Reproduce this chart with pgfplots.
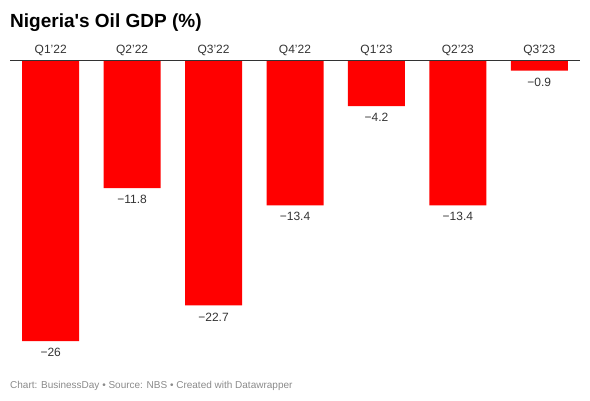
\documentclass[border=0pt]{standalone}
\usepackage{pgfplots}
\pgfplotsset{compat=1.18}
\usepackage{fontspec}
\setmainfont{Liberation Sans}
\newfontfamily\plainfont{Liberation Sans}[Mapping=]
\definecolor{barred}{HTML}{FF0000}
\definecolor{foot}{HTML}{8A8A8A}
\definecolor{txt}{HTML}{333333}
\begin{document}
\begin{tikzpicture}[x=1pt,y=1pt]
\path[use as bounding box] (0,0) rectangle (590,400);
\begin{axis}[at={(10pt,59pt)}, anchor=south west, scale only axis,
  width=570pt, height=280pt, xmin=-0.5, xmax=6.5, ymin=-26, ymax=0,
  clip=false, axis line style={draw=none},
  ybar, bar width=57pt, bar shift=0pt,
  ytick=\empty, xtick={0,1,2,3,4,5,6},
  xticklabels={Q1’22,Q2’22,Q3’22,Q4’22,Q1’23,Q2’23,Q3’23},
  xticklabel pos=upper, major tick length=0pt,
  x tick label style={font=\fontsize{12}{14}\selectfont, text=txt, inner sep=0pt, text depth=0pt, anchor=south, yshift=7pt},
  nodes near coords, point meta=explicit symbolic,
  every node near coord/.append style={font=\fontsize{12}{14}\selectfont, text=txt, inner sep=0pt, anchor=north, yshift=-7pt}]
\addplot[fill=barred, draw=none] coordinates {
 (0,-26) [−26]
 (1,-11.8) [−11.8]
 (2,-22.7) [−22.7]
 (3,-13.4) [−13.4]
 (4,-4.2) [−4.2]
 (5,-13.4) [−13.4]
 (6,-0.9) [−0.9]
};
\draw[black!80, line width=1pt] (axis cs:-0.5,0) -- (axis cs:6.5,0);
\end{axis}
\node[anchor=base west, inner sep=0pt, font=\plainfont\bfseries\fontsize{19}{22}\selectfont] at (10,372) {Nigeria's Oil GDP (\%)};
\node[anchor=base west, inner sep=0pt, font=\fontsize{10}{12}\selectfont, text=foot] at (10,12) {Chart: BusinessDay • Source: NBS • Created with Datawrapper};
\end{tikzpicture}
\end{document}
